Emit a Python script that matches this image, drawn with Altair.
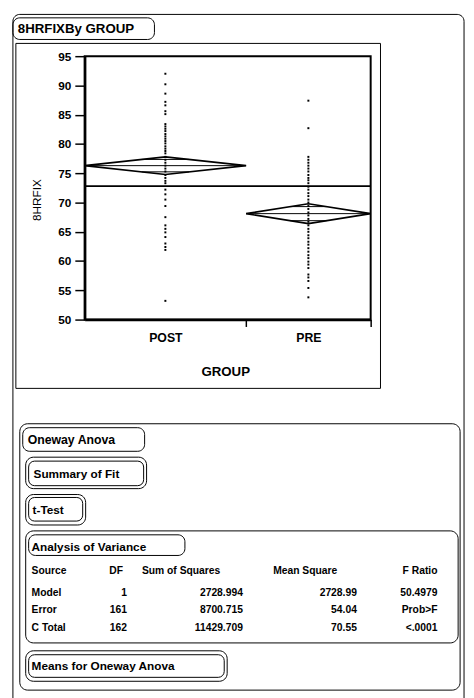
import math
import altair as alt
import pandas as pd

# ---------------- data ----------------
groups = ["POST", "PRE"]
group_counts = [92, 71]          # x widths are proportional to group size
group_means = [76.3, 68.1]
ci_lower = [74.8, 66.4]
ci_upper = [77.8, 69.8]
grand_mean = 72.8

post_values = [92.0, 90.2, 88.6, 87.2, 86.6, 85.6, 85.1, 83.4, 83.0, 82.6, 82.2,
               81.7, 81.3, 80.9, 80.5, 80.1, 79.6, 79.2, 78.8, 78.4, 77.8, 77.3,
               76.8, 76.3, 75.8, 75.3, 74.7, 74.2, 73.7, 73.3, 72.2, 71.4, 70.5,
               69.4, 67.5, 66.1, 65.5, 64.9, 64.1, 63.0, 62.4, 61.9, 53.2]
pre_values = [87.4, 82.7, 77.8, 77.3, 76.8, 76.3, 75.8, 75.3, 74.7, 74.2, 73.8,
              73.3, 72.7, 72.2, 71.6, 71.1, 70.5, 70.0, 69.4, 68.9, 68.3, 67.8,
              67.2, 66.7, 66.1, 65.5, 65.0, 64.4, 63.9, 63.3, 62.8, 62.2, 61.6,
              61.0, 60.5, 59.9, 59.4, 58.8, 57.7, 57.2, 56.6, 55.4, 53.8]
y_ticks = [50, 55, 60, 65, 70, 75, 80, 85, 90, 95]

report_title = "8HRFIXBy GROUP"
y_title = "8HRFIX"
x_title = "GROUP"
section_titles = ["Oneway Anova", "Summary of Fit", "t-Test",
                  "Analysis of Variance", "Means for Oneway Anova"]

anova_header = ["Source", "DF", "Sum of Squares", "Mean Square", "F Ratio"]
anova_source = ["Model", "Error", "C Total"]
anova_dfree = ["1", "161", "162"]
anova_ss = ["2728.994", "8700.715", "11429.709"]
anova_ms = ["2728.99", "54.04", "70.55"]
anova_f = ["50.4979", "Prob>F", "<.0001"]

# ---------------- layout ----------------
FONT = "Liberation Sans"
W, H = 291, 268
OX, OY = 86, 51      # page position of the plot origin
PAD_L, PAD_T = 78, 43


def rx(px):
    return px - OX


def ry(py):
    return py - OY


starts, ends = [], []
acc = 0
for n in group_counts:
    starts.append(acc)
    acc += n
    ends.append(acc)
total = acc
centers = [(s + e) / 2 for s, e in zip(starts, ends)]

label_expr = " : ".join(
    [f"datum.value == {c} ? '{g}'" for c, g in zip(centers, groups)]) + " : ''"
tick_test = " || ".join([f"datum.value == {e}" for e in ends])

xs = alt.Scale(domain=[0, total], nice=False, zero=False)
ys = alt.Scale(domain=[50, 95], nice=False, zero=False)

x_axis = alt.Axis(values=centers + ends, labelExpr=label_expr,
                  tickOpacity={"condition": {"test": tick_test, "value": 1}, "value": 0},
                  tickSize=7, tickWidth=1.5, tickColor="black",
                  domainColor="black", domainWidth=2.5,
                  labelFont=FONT, labelFontSize=12.5, labelFontWeight="bold",
                  labelColor="black", labelPadding=5, labelOverlap=False,
                  labelFlush=False, grid=False,
                  title=x_title, titleFont=FONT, titleFontSize=13.5,
                  titleFontWeight="bold", titleColor="black",
                  titleX=rx(229), titleY=372 - (OY + H),
                  titleBaseline="middle", titleAlign="center")
y_axis = alt.Axis(values=y_ticks, tickSize=10, tickWidth=1.5, tickColor="black",
                  domainColor="black", domainWidth=2.5,
                  labelFont=FONT, labelFontSize=12, labelFontWeight="bold",
                  labelColor="black", labelPadding=4, grid=False,
                  title=y_title, titleFont=FONT, titleFontSize=12,
                  titleFontWeight="normal", titleColor="black",
                  titleX=rx(37), titleY=ry(197), titleAngle=270,
                  titleBaseline="middle", titleAlign="center")

X = alt.X("x:Q", scale=xs, axis=x_axis)
Y = alt.Y("y:Q", scale=ys, axis=y_axis)

# points
pts = pd.DataFrame({
    "x": [centers[0]] * len(post_values) + [centers[1]] * len(pre_values),
    "y": post_values + pre_values,
})
points = alt.Chart(pts).mark_square(size=4, color="black", opacity=1).encode(x=X, y=Y)

# diamonds
rows = []
for g, s, e, c, m, lo, hi in zip(groups, starts, ends, centers, group_means, ci_lower, ci_upper):
    for i, (xx, yy) in enumerate([(s, m), (c, hi), (e, m), (c, lo), (s, m)]):
        rows.append({"g": g, "o": i, "x": xx, "y": yy})
dia = pd.DataFrame(rows)
diamonds = alt.Chart(dia).mark_line(color="black", strokeWidth=1.6).encode(
    x=X, y=Y, detail="g:N", order="o:Q")

# mean lines inside diamonds + overlap marks
seg = []
k = 1 - 1 / math.sqrt(2)
for s, e, c, m, hi in zip(starts, ends, centers, group_means, ci_upper):
    seg.append({"x": s, "x2": e, "y": m})
    h = (hi - m) / math.sqrt(2)
    hw = (e - s) / 2 * k
    seg.append({"x": c - hw, "x2": c + hw, "y": m + h})
    seg.append({"x": c - hw, "x2": c + hw, "y": m - h})
segs = alt.Chart(pd.DataFrame(seg)).mark_rule(color="black", strokeWidth=1).encode(
    x=X, x2="x2:Q", y=Y)

gm = alt.Chart(pd.DataFrame({"x": [0], "x2": [total], "y": [grand_mean]})).mark_rule(
    color="black", strokeWidth=2).encode(x=X, x2="x2:Q", y=Y)

# ---------------- report decorations ----------------
one = pd.DataFrame({"k": [0]})


def box(x1, y1, x2, y2, r, sw=1.0):
    return alt.Chart(one).mark_rect(stroke="black", strokeWidth=sw, fillOpacity=0,
                                    cornerRadius=r).encode(
        x=alt.value(rx(x1)), x2=alt.value(rx(x2)),
        y=alt.value(ry(y1)), y2=alt.value(ry(y2)))


def label(txt, x, y, align="left", size=11.5, weight="bold"):
    return alt.Chart(one).mark_text(text=txt, align=align, baseline="middle",
                                    font=FONT, fontSize=size, fontWeight=weight,
                                    color="black").encode(
        x=alt.value(rx(x)), y=alt.value(ry(y)))


deco = [
    box(13, 8.5, 472, 760, 7),          # report outline
    box(13, 12, 157, 34, 7),            # title box
    box(16, 38, 387, 389, 0),           # plot frame
    box(20, 425, 468, 696, 8),          # Oneway Anova outline
    box(23, 429, 147, 453, 7),
    box(26, 459, 149, 491, 8), box(29, 463, 146, 488, 6),
    box(26, 497, 87, 528, 8), box(29, 500, 84, 524, 6),
    box(26, 534, 466, 648, 8),          # ANOVA outline
    box(29, 538, 188, 559, 7),
    box(26, 656, 231, 687, 8), box(29, 660, 228, 683, 6),
]
texts = [
    label(report_title, 18, 23, size=13.5),
    label(section_titles[0], 28, 442, size=12.5),
    label(section_titles[1], 34, 476, size=12),
    label(section_titles[2], 33, 513, size=12),
    label(section_titles[3], 32, 550, size=12),
    label(section_titles[4], 32, 672, size=12),
]

# ANOVA table
col_x = [32, 129, 247, 363, 445]
head_x = [32, 125, 224, 343, 445]
row_y = [597, 615, 633]
head_y = 575
cols = [anova_source, anova_dfree, anova_ss, anova_ms, anova_f]
table = []
for j, hd in enumerate(anova_header):
    table.append(label(hd, head_x[j], head_y, align="left" if j == 0 else "right", size=10.5))
    for i, val in enumerate(cols[j]):
        table.append(label(val, col_x[j], row_y[i], align="left" if j == 0 else "right", size=10.5))

chart = alt.layer(*deco, *texts, *table, gm, segs, diamonds, points).properties(
    width=W, height=H, autosize="none",
    padding={"left": PAD_L, "top": PAD_T, "right": 466 - PAD_L - W,
             "bottom": 690 - PAD_T - H},
    background="white",
).configure_view(stroke="black", strokeWidth=2)

chart.save("out.html", embed_options={"renderer": "svg", "actions": False})
